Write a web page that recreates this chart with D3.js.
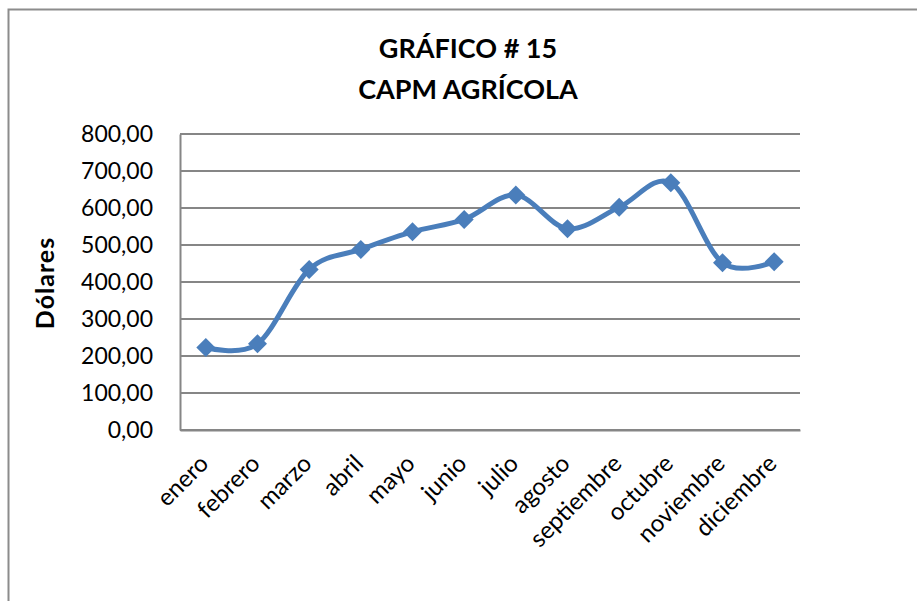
<!DOCTYPE html>
<html lang="es">
<head>
  <meta charset="UTF-8" />
  <title>CAPM Agrícola</title>
  <script src="https://d3js.org/d3.v7.min.js"></script>
  <style>
    body { margin: 0; background: #fff; }
    svg { display: block; font-family: Lato, 'Open Sans', sans-serif; }
  </style>
</head>
<body>
  <div id="chart"></div>
  <script>
    const months = ["enero", "febrero", "marzo", "abril", "mayo", "junio",
      "julio", "agosto", "septiembre", "octubre", "noviembre", "diciembre"];
    const capm = [223, 233, 434, 488, 536, 569, 635, 544, 602, 668, 452, 455];
    const yTicks = [0, 100, 200, 300, 400, 500, 600, 700, 800];
    const titleLines = ["GRÁFICO # 15", "CAPM AGRÍCOLA"];
    const yTitle = "Dólares";

    const width = 917, height = 601;
    const plot = { left: 180, right: 800, top: 134, bottom: 430 };
    const blue = "#4a7ebb";
    const grid = "#868686";

    const svg = d3.select("#chart").append("svg")
      .attr("width", width)
      .attr("height", height);

    // chart frame
    svg.append("rect")
      .attr("x", 8.5).attr("y", 9.5)
      .attr("width", 940).attr("height", 620)
      .attr("fill", "#fff")
      .attr("stroke", "#8c8c8c")
      .attr("stroke-width", 2);

    const x = d3.scaleBand().domain(months).range([plot.left, plot.right]);
    const y = d3.scaleLinear().domain([0, 800]).range([plot.bottom, plot.top]);

    // title
    svg.append("g").selectAll("text")
      .data(titleLines)
      .join("text")
      .attr("x", 468)
      .attr("y", (d, i) => 58 + i * 41)
      .attr("text-anchor", "middle")
      .attr("font-weight", "bold")
      .attr("font-size", 27)
      .attr("fill", "#000")
      .text(d => d);

    // gridlines
    svg.append("g").selectAll("line")
      .data(yTicks)
      .join("line")
      .attr("x1", plot.left).attr("x2", plot.right)
      .attr("y1", d => y(d)).attr("y2", d => y(d))
      .attr("stroke", grid)
      .attr("stroke-width", 2);

    // y axis
    const yAxis = svg.append("g")
      .attr("transform", `translate(${plot.left},0)`)
      .call(d3.axisLeft(y).tickValues(yTicks).tickSize(0).tickPadding(27)
        .tickFormat(d => d3.format(".2f")(d).replace(".", ",")));
    yAxis.select(".domain").attr("stroke", grid).attr("stroke-width", 2);
    yAxis.selectAll("text")
      .attr("font-size", 23)
      .attr("font-family", "Lato, sans-serif")
      .attr("fill", "#000");

    // x axis
    const xAxis = svg.append("g")
      .attr("transform", `translate(0,${plot.bottom})`)
      .call(d3.axisBottom(x).tickSize(0).tickPadding(0));
    xAxis.select(".domain").attr("stroke", grid).attr("stroke-width", 2);
    xAxis.selectAll("text")
      .attr("font-size", 24)
      .attr("font-family", "Lato, sans-serif")
      .attr("fill", "#000")
      .attr("text-anchor", "end")
      .attr("dy", 0)
      .attr("transform", "translate(4,35) rotate(-45)");

    // y title
    svg.append("text")
      .attr("transform", "translate(54,283) rotate(-90)")
      .attr("text-anchor", "middle")
      .attr("font-weight", "bold")
      .attr("font-size", 25)
      .attr("letter-spacing", 1)
      .text(yTitle);

    const pts = months.map((m, i) => [x(m) + x.bandwidth() / 2, y(capm[i])]);

    svg.append("path")
      .datum(pts)
      .attr("fill", "none")
      .attr("stroke", blue)
      .attr("stroke-width", 5)
      .attr("stroke-linejoin", "round")
      .attr("d", d3.line().curve(d3.curveCatmullRom.alpha(0)));

    svg.append("g").selectAll("path")
      .data(pts)
      .join("path")
      .attr("transform", d => `translate(${d[0]},${d[1]})`)
      .attr("d", d3.symbol(d3.symbolDiamond2, 230)())
      .attr("fill", blue);
  </script>
</body>
</html>
